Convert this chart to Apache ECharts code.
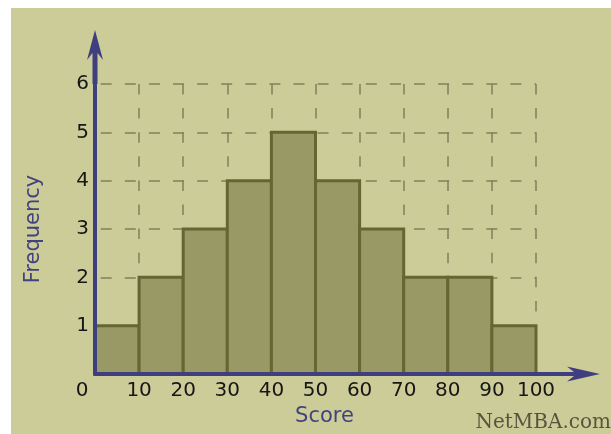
<!DOCTYPE html>
<html>
<head>
<meta charset="utf-8">
<script src="https://cdn.jsdelivr.net/npm/echarts@6/dist/echarts.min.js"></script>
<style>
  html, body { margin: 0; padding: 0; background: #ffffff; }
  #wrap { position: relative; width: 611px; height: 434px; overflow: hidden; }
  #panel { position: absolute; left: 11px; top: 8px; right: 0; bottom: 0; background: #cccc99; }
  #chart { position: absolute; left: 0; top: 0; width: 611px; height: 434px; }
</style>
</head>
<body>
<div id="wrap">
  <div id="panel"></div>
  <div id="chart"></div>
</div>
<script>
// ---- data ----
const binEdges = [0, 10, 20, 30, 40, 50, 60, 70, 80, 90, 100];
const frequency = [1, 2, 3, 4, 5, 4, 3, 2, 2, 1];
const xTickLabels = ['0', '10', '20', '30', '40', '50', '60', '70', '80', '90', '100'];
const yTickLabels = ['', '1', '2', '3', '4', '5', '6'];
const xAxisTitle = 'Score';
const yAxisTitle = 'Frequency';
const creditText = 'NetMBA.com';

// ---- build ----
const barData = frequency.map((f, i) => [binEdges[i], binEdges[i + 1], f]);
const axisColor = '#3f3f7f';
const gridColor = '#80805c';
const font = '"DejaVu Sans", sans-serif';
const labelColor = '#161616';

const hiddenAxisParts = {
  axisLine: { show: false }, axisTick: { show: false }, axisLabel: { show: false }
};

const chart = echarts.init(document.getElementById('chart'), null, { renderer: 'canvas' });
chart.setOption({
  backgroundColor: 'transparent',
  animation: false,
  title: {
    text: creditText,
    right: 0,
    bottom: 1,
    padding: 0,
    textStyle: { fontFamily: '"DejaVu Serif", serif', fontSize: 20, fontWeight: 'normal', color: '#55553f' }
  },
  grid: { left: 95, right: 75, top: 84, bottom: 60, containLabel: false },
  xAxis: [{
    type: 'value',
    min: 0, max: 100, interval: 10,
    z: 5,
    name: xAxisTitle,
    nameLocation: 'middle',
    nameGap: 29,
    nameTextStyle: { fontFamily: font, fontSize: 21, color: '#42427f', padding: [0, 0, 0, 18] },
    axisLine: {
      show: true,
      lineStyle: { color: axisColor, width: 4 },
      symbol: ['none', 'path://M7.5,0 L15,33 L9.5,26 L9.5,64 L5.5,64 L5.5,26 L0,33 Z'],
      symbolSize: [15, 64],
      symbolOffset: [0, 32]
    },
    axisTick: { show: false },
    axisLabel: {
      show: true,
      margin: 7,
      fontFamily: font, fontSize: 20, color: labelColor,
      showMinLabel: true, showMaxLabel: true,
      formatter: function (v) {
        const i = binEdges.indexOf(v);
        if (i < 0) return '';
        return i === 0 ? '{z|' + xTickLabels[i] + '}' : xTickLabels[i];
      },
      rich: { z: { fontFamily: font, fontSize: 20, color: labelColor, padding: [0, 26, 0, 0] } }
    },
    splitLine: { show: false }
  }, Object.assign({
    type: 'value',
    min: 0, max: 100, interval: 10,
    position: 'bottom',
    z: 0,
    splitLine: {
      show: true,
      lineStyle: { color: gridColor, width: 1.5, type: [10.5, 13.6], dashOffset: 0 }
    }
  }, hiddenAxisParts)],
  yAxis: [{
    type: 'value',
    min: 0, max: 6, interval: 1,
    z: 5,
    name: yAxisTitle,
    nameLocation: 'middle',
    nameGap: 51,
    nameTextStyle: { fontFamily: font, fontSize: 21, color: '#42427f' },
    axisLine: {
      show: true,
      lineStyle: { color: axisColor, width: 4 },
      symbol: ['none', 'path://M8,0 L16,30 L10.5,23 L10.5,54 L5.5,54 L5.5,23 L0,30 Z'],
      symbolSize: [16, 54],
      symbolOffset: [0, 27]
    },
    axisTick: { show: false },
    axisLabel: {
      margin: 6,
      fontFamily: font, fontSize: 20, color: labelColor,
      formatter: function (v) { return yTickLabels[v] !== undefined ? yTickLabels[v] : ''; }
    },
    splitLine: { show: false }
  }, Object.assign({
    type: 'value',
    min: 0, max: 6, interval: 1,
    position: 'left',
    z: 0,
    splitLine: {
      show: true,
      lineStyle: { color: gridColor, width: 1.5, type: [11, 13.1], dashOffset: 18.4 }
    }
  }, hiddenAxisParts)],
  series: [{
    type: 'custom',
    xAxisIndex: 0,
    yAxisIndex: 0,
    data: barData,
    encode: { x: [0, 1], y: 2 },
    renderItem: function (params, api) {
      const p0 = api.coord([api.value(0), 0]);
      const p1 = api.coord([api.value(1), api.value(2)]);
      return {
        type: 'rect',
        shape: { x: p0[0], y: p1[1], width: p1[0] - p0[0], height: p0[1] - p1[1] },
        style: { fill: '#999966', stroke: '#666633', lineWidth: 3 }
      };
    },
    z: 2
  }]
});
</script>
</body>
</html>
